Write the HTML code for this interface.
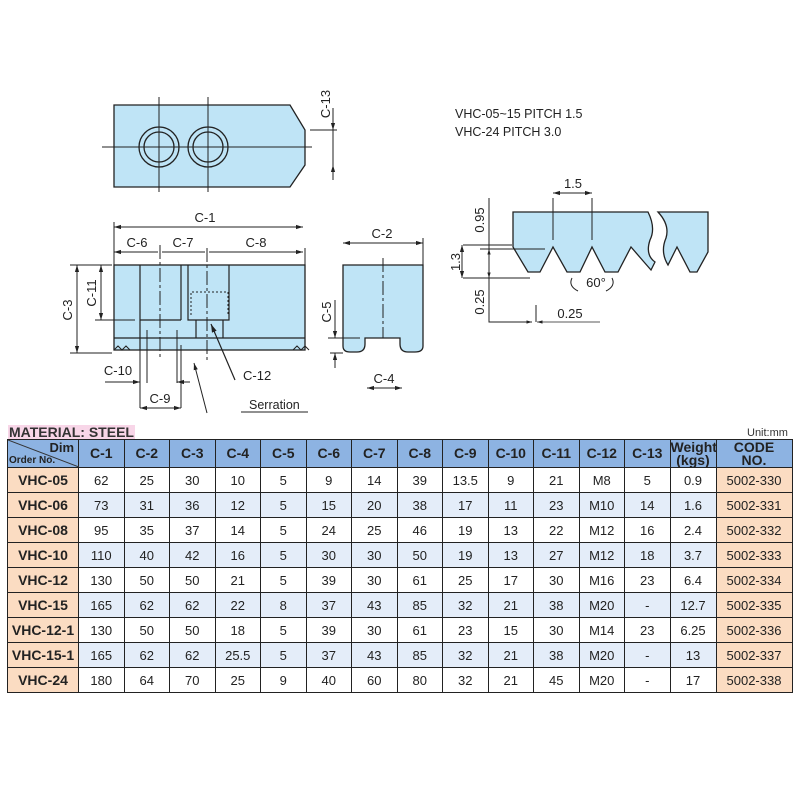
<!DOCTYPE html>
<html><head><meta charset="utf-8"><style>
body{margin:0;background:#fff;width:800px;height:800px;position:relative;overflow:hidden;font-family:"Liberation Sans",Arial,sans-serif}
svg{position:absolute;left:0;top:0}
table{position:absolute;left:7px;top:439px;border-collapse:collapse;table-layout:fixed;width:784px}
td,th{border:1.8px solid #222;text-align:center;font-size:13px;color:#222;padding:0;height:24px;}
th{background:#8db3e2;font-weight:bold;font-size:14px;height:27px;line-height:13px}
td.o{background:#fbdcc2;font-weight:bold;font-size:14px}
td.c{background:#fbdcc2}
tr.b td{background:#e4edf9}
tr.b td.o,tr.b td.c{background:#fbdcc2}
.mat{position:absolute;left:8px;top:425px;font-weight:bold;font-size:14px;background:#f8d6e8;color:#333;line-height:14px;padding:0 1px}
.unit{position:absolute;left:747px;top:427px;font-size:11px;color:#333}
</style></head><body>
<svg width="800" height="420" viewBox="0 0 800 420" font-family="Liberation Sans, Arial, sans-serif" fill="none" stroke="#222" stroke-width="1.3">
<defs><marker id="a" viewBox="0 0 10 10" refX="10" refY="5" markerWidth="7" markerHeight="7" orient="auto-start-reverse"><path d="M0,2 L10,5 L0,8z" fill="#222" stroke="none"/></marker></defs>
<!-- top view -->
<path d="M114,105 H290 L305,130 V165 L290,187 H114Z" fill="#bfe4f6"/>
<circle cx="159" cy="147" r="20"/><circle cx="159" cy="147" r="15"/>
<circle cx="208" cy="147" r="20"/><circle cx="208" cy="147" r="15"/>
<path d="M102,147 H312 M159,97 V192 M208,97 V192" stroke-width="1"/>
<path d="M310,130 H337 M333,108 V130 M333,165 V172 M333,130 V165" stroke-width="1"/>
<path d="M333,112 V130" marker-end="url(#a)" stroke-width="1"/>
<path d="M333,180 V165" marker-end="url(#a)" stroke-width="1"/>
<text x="330" y="104" transform="rotate(-90 330 104)" font-size="13" fill="#222" stroke="none" text-anchor="middle">C-13</text>
<text x="455" y="118" font-size="12.5" fill="#222" stroke="none">VHC-05~15 PITCH 1.5</text>
<text x="455" y="136" font-size="12.5" fill="#222" stroke="none">VHC-24 PITCH 3.0</text>
<!-- front view -->
<rect x="114" y="265" width="191" height="85" fill="#bfe4f6"/>
<path d="M114,338 H305 M140,265 V350 M181,265 V320 M188,265 V320 H229 V265 M140,320 H181 M196,320 V338 M223,320 V338" stroke-width="1.2"/>
<path d="M191,315 V292 H228 V315" stroke-dasharray="2,2" stroke-width="1"/>
<path d="M160,245 V360 M207,248 V360" stroke-width="1" stroke-dasharray="14,3,3,3"/>
<path d="M114,350 l4,-4 4,4 4,-4 4,4 M293,350 l4,-4 4,4 4,-4 4,4" stroke-width="1"/>
<path d="M114,222 V265 M305,248 V265" stroke-width="1"/>
<path d="M114,227 H303" marker-start="url(#a)" marker-end="url(#a)" stroke-width="1"/>
<path d="M114,252 H158 M162,252 H205 M209,252 H303" marker-start="url(#a)" marker-end="url(#a)" stroke-width="1"/>
<text x="205" y="222" font-size="13" fill="#222" stroke="none" text-anchor="middle">C-1</text>
<text x="137" y="247" font-size="13" fill="#222" stroke="none" text-anchor="middle">C-6</text>
<text x="183" y="247" font-size="13" fill="#222" stroke="none" text-anchor="middle">C-7</text>
<text x="256" y="247" font-size="13" fill="#222" stroke="none" text-anchor="middle">C-8</text>
<path d="M70,265 H112 M70,353 H112 M95,320 H135" stroke-width="1"/>
<path d="M77,265 V353" marker-start="url(#a)" marker-end="url(#a)" stroke-width="1"/>
<path d="M101,265 V320" marker-start="url(#a)" marker-end="url(#a)" stroke-width="1"/>
<text x="72" y="310" transform="rotate(-90 72 310)" font-size="13" fill="#222" stroke="none" text-anchor="middle">C-3</text>
<text x="96" y="293" transform="rotate(-90 96 293)" font-size="13" fill="#222" stroke="none" text-anchor="middle">C-11</text>
<path d="M140,338 V408 M147,330 V383 M177,330 V383 M181,345 V408" stroke-width="1"/>
<path d="M105,382 H140" marker-end="url(#a)" stroke-width="1"/>
<path d="M190,382 H177" marker-end="url(#a)" stroke-width="1"/>
<path d="M140,408 H181" marker-start="url(#a)" marker-end="url(#a)" stroke-width="1"/>
<text x="118" y="375" font-size="13" fill="#222" stroke="none" text-anchor="middle">C-10</text>
<text x="160" y="403" font-size="13" fill="#222" stroke="none" text-anchor="middle">C-9</text>
<path d="M235,380 L211,324" marker-end="url(#a)" stroke-width="1.2"/>
<path d="M207,413 L194,363" marker-end="url(#a)" stroke-width="1"/>
<text x="243" y="380" font-size="13" fill="#222" stroke="none">C-12</text>
<text x="249" y="409" font-size="12.5" fill="#222" stroke="none">Serration</text>
<path d="M241,412 H308" stroke-width="1"/>
<!-- side view -->
<path d="M343,265 H423 V346 Q423,352 415,352 H408 Q400,352 400,344 V338 H365 V344 Q365,352 357,352 H350 Q343,352 343,346Z" fill="#bfe4f6"/>
<path d="M383,258 V338" stroke-width="1" stroke-dasharray="14,3,3,3"/>
<path d="M423,238 V265" stroke-width="1"/>
<path d="M343,243 H423" marker-start="url(#a)" marker-end="url(#a)" stroke-width="1"/>
<text x="382" y="238" font-size="13" fill="#222" stroke="none" text-anchor="middle">C-2</text>
<path d="M328,338 H360 M330,353 H343" stroke-width="1"/>
<path d="M335,300 V338" marker-end="url(#a)" stroke-width="1"/>
<path d="M335,368 V353" marker-end="url(#a)" stroke-width="1"/>
<text x="331" y="312" transform="rotate(-90 331 312)" font-size="13" fill="#222" stroke="none" text-anchor="middle">C-5</text>
<path d="M367,388 H402" marker-start="url(#a)" marker-end="url(#a)" stroke-width="1"/>
<text x="384" y="383" font-size="13" fill="#222" stroke="none" text-anchor="middle">C-4</text>
<!-- thread section -->
<path d="M513,212 H648 Q656,228 650,240 Q645,255 655,262 L651,270 L644,262 L631,247 L618,272 H605 L592,247 L580,272 H567 L553,247 L540,272 H528 L513,247Z" fill="#bfe4f6"/>
<path d="M658,212 H708 V252 L697,272 H690 L677,247 L668,265 Q660,252 666,238 Q670,225 658,212Z" fill="#bfe4f6"/>
<path d="M553,198 V240 M592,198 V240" stroke-width="1"/>
<path d="M553,193 H592" marker-start="url(#a)" marker-end="url(#a)" stroke-width="1"/>
<text x="573" y="188" font-size="13" fill="#222" stroke="none" text-anchor="middle">1.5</text>
<path d="M480,249 H545 M463,278 H530 M489,198 V322 H532 M536,305 V322" stroke-width="1"/>
<path d="M463,245 H512" stroke-width="1"/>
<path d="M462,245 V278" marker-start="url(#a)" marker-end="url(#a)" stroke-width="1"/>
<path d="M489,255 V249" marker-end="url(#a)" stroke-width="0.8"/>
<path d="M489,270 V278" marker-end="url(#a)" stroke-width="0.8"/>
<path d="M520,322 H532" marker-end="url(#a)" stroke-width="0.8"/>
<path d="M600,322 H537" marker-end="url(#a)" stroke-width="0.8"/>
<text x="484" y="220" transform="rotate(-90 484 220)" font-size="13" fill="#222" stroke="none" text-anchor="middle">0.95</text>
<text x="460" y="262" transform="rotate(-90 460 262)" font-size="13" fill="#222" stroke="none" text-anchor="middle">1.3</text>
<text x="484" y="302" transform="rotate(-90 484 302)" font-size="13" fill="#222" stroke="none" text-anchor="middle">0.25</text>
<text x="570" y="318" font-size="13" fill="#222" stroke="none" text-anchor="middle">0.25</text>
<text x="596" y="287" font-size="13" fill="#222" stroke="none" text-anchor="middle">60°</text>
<path d="M572,278 Q568,286 578,291 M612,278 Q616,286 606,291" stroke-width="1"/>
</svg>
<div class="mat">MATERIAL: STEEL</div>
<div class="unit">Unit:mm</div>
<table>
<colgroup><col style="width:71px"><col span="13" style="width:45.5px"><col style="width:46px"><col style="width:76px"></colgroup>
<tr><th style="background:#8db3e2;position:relative;font-size:11px;text-align:left"><svg width="71" height="27" style="position:absolute;left:0;top:0"><line x1="0" y1="0" x2="71" y2="27" stroke="#333" stroke-width="1"/></svg><span style="position:absolute;right:4px;top:1px;font-size:13px">Dim</span><span style="position:absolute;left:1px;bottom:0;font-size:10px">Order No.</span></th><th>C-1</th><th>C-2</th><th>C-3</th><th>C-4</th><th>C-5</th><th>C-6</th><th>C-7</th><th>C-8</th><th>C-9</th><th>C-10</th><th>C-11</th><th>C-12</th><th>C-13</th><th>Weight<br>(kgs)</th><th>CODE<br>NO.</th></tr>
<tr><td class="o">VHC-05</td><td>62</td><td>25</td><td>30</td><td>10</td><td>5</td><td>9</td><td>14</td><td>39</td><td>13.5</td><td>9</td><td>21</td><td>M8</td><td>5</td><td>0.9</td><td class="c">5002-330</td></tr>
<tr class="b"><td class="o">VHC-06</td><td>73</td><td>31</td><td>36</td><td>12</td><td>5</td><td>15</td><td>20</td><td>38</td><td>17</td><td>11</td><td>23</td><td>M10</td><td>14</td><td>1.6</td><td class="c">5002-331</td></tr>
<tr><td class="o">VHC-08</td><td>95</td><td>35</td><td>37</td><td>14</td><td>5</td><td>24</td><td>25</td><td>46</td><td>19</td><td>13</td><td>22</td><td>M12</td><td>16</td><td>2.4</td><td class="c">5002-332</td></tr>
<tr class="b"><td class="o">VHC-10</td><td>110</td><td>40</td><td>42</td><td>16</td><td>5</td><td>30</td><td>30</td><td>50</td><td>19</td><td>13</td><td>27</td><td>M12</td><td>18</td><td>3.7</td><td class="c">5002-333</td></tr>
<tr><td class="o">VHC-12</td><td>130</td><td>50</td><td>50</td><td>21</td><td>5</td><td>39</td><td>30</td><td>61</td><td>25</td><td>17</td><td>30</td><td>M16</td><td>23</td><td>6.4</td><td class="c">5002-334</td></tr>
<tr class="b"><td class="o">VHC-15</td><td>165</td><td>62</td><td>62</td><td>22</td><td>8</td><td>37</td><td>43</td><td>85</td><td>32</td><td>21</td><td>38</td><td>M20</td><td>-</td><td>12.7</td><td class="c">5002-335</td></tr>
<tr><td class="o">VHC-12-1</td><td>130</td><td>50</td><td>50</td><td>18</td><td>5</td><td>39</td><td>30</td><td>61</td><td>23</td><td>15</td><td>30</td><td>M14</td><td>23</td><td>6.25</td><td class="c">5002-336</td></tr>
<tr class="b"><td class="o">VHC-15-1</td><td>165</td><td>62</td><td>62</td><td>25.5</td><td>5</td><td>37</td><td>43</td><td>85</td><td>32</td><td>21</td><td>38</td><td>M20</td><td>-</td><td>13</td><td class="c">5002-337</td></tr>
<tr><td class="o">VHC-24</td><td>180</td><td>64</td><td>70</td><td>25</td><td>9</td><td>40</td><td>60</td><td>80</td><td>32</td><td>21</td><td>45</td><td>M20</td><td>-</td><td>17</td><td class="c">5002-338</td></tr>
</table>
</body></html>
